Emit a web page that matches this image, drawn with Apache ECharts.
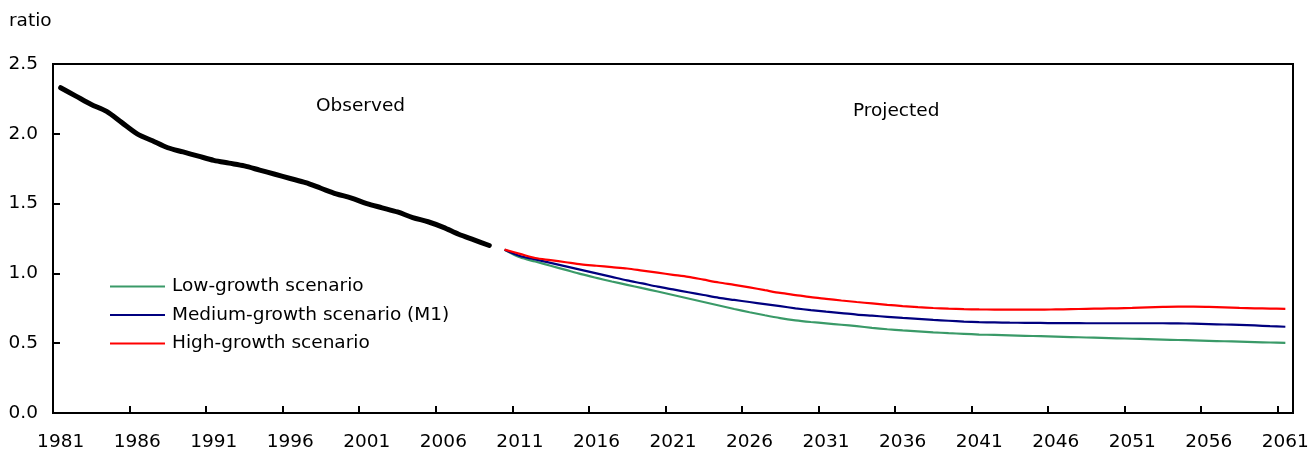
<!DOCTYPE html>
<html>
<head>
<meta charset="utf-8">
<script src="https://cdn.jsdelivr.net/npm/echarts@6/dist/echarts.min.js"></script>
<style>
html,body{margin:0;padding:0;background:#fff;}
#chart{width:1315px;height:454px;}
</style>
</head>
<body>
<div id="chart"></div>
<script>
// Categories: years 1981..2061
const years = [
  '1981','1982','1983','1984','1985','1986','1987','1988','1989','1990',
  '1991','1992','1993','1994','1995','1996','1997','1998','1999','2000',
  '2001','2002','2003','2004','2005','2006','2007','2008','2009','2010',
  '2011','2012','2013','2014','2015','2016','2017','2018','2019','2020',
  '2021','2022','2023','2024','2025','2026','2027','2028','2029','2030',
  '2031','2032','2033','2034','2035','2036','2037','2038','2039','2040',
  '2041','2042','2043','2044','2045','2046','2047','2048','2049','2050',
  '2051','2052','2053','2054','2055','2056','2057','2058','2059','2060',
  '2061'
];

// Observed, 1981..2009
const observed = [
  2.33, 2.27, 2.21, 2.16, 2.08, 2.00, 1.95, 1.90, 1.87, 1.84,
  1.81, 1.79, 1.77, 1.74, 1.71, 1.68, 1.65, 1.61, 1.57, 1.54,
  1.50, 1.47, 1.44, 1.40, 1.37, 1.33, 1.28, 1.24, 1.20
];

// Projections, 2010..2061
const lowGrowth = [
  1.17, 1.115, 1.085, 1.055, 1.025, 0.995, 0.968, 0.942, 0.918, 0.894,
  0.870, 0.845, 0.820, 0.795, 0.770, 0.745, 0.722, 0.700, 0.680, 0.664,
  0.652, 0.642, 0.632, 0.622, 0.610, 0.600, 0.592, 0.585, 0.578, 0.572,
  0.567, 0.562, 0.559, 0.556, 0.553, 0.550, 0.547, 0.544, 0.541, 0.538,
  0.535, 0.532, 0.529, 0.526, 0.523, 0.520, 0.517, 0.514, 0.511, 0.508,
  0.505, 0.502
];
const mediumGrowth = [
  1.17, 1.125, 1.100, 1.075, 1.050, 1.025, 1.000, 0.975, 0.950, 0.928,
  0.905, 0.885, 0.865, 0.845, 0.825, 0.810, 0.795, 0.780, 0.765, 0.750,
  0.737, 0.726, 0.716, 0.705, 0.697, 0.689, 0.681, 0.674, 0.667, 0.661,
  0.655, 0.651, 0.649, 0.647, 0.646, 0.645, 0.644, 0.644, 0.643, 0.643,
  0.643, 0.643, 0.643, 0.643, 0.642, 0.640, 0.637, 0.634, 0.631, 0.627,
  0.622, 0.618
];
const highGrowth = [
  1.17, 1.140, 1.110, 1.095, 1.080, 1.065, 1.055, 1.045, 1.035, 1.020,
  1.005, 0.990, 0.975, 0.955, 0.935, 0.918, 0.900, 0.880, 0.860, 0.845,
  0.830, 0.818, 0.806, 0.795, 0.785, 0.775, 0.766, 0.758, 0.752, 0.747,
  0.744, 0.742, 0.741, 0.740, 0.740, 0.740, 0.742, 0.744, 0.746, 0.748,
  0.750, 0.753, 0.757, 0.760, 0.762, 0.762, 0.760, 0.757, 0.753, 0.750,
  0.748, 0.746
];

const yTicks = [0, 0.5, 1.0, 1.5, 2.0, 2.5];
const seriesNames = ['Low-growth scenario', 'Medium-growth scenario (M1)', 'High-growth scenario'];

const FONT = 'DejaVu Sans';
const FS = 18.5;
const nYears = years.length;
const projStart = years.indexOf('2010');

function fullObserved() {
  const arr = new Array(nYears).fill(null);
  observed.forEach((v, i) => { arr[i] = v; });
  return arr;
}
function fullProjected(vals) {
  const arr = new Array(nYears).fill(null);
  vals.forEach((v, i) => { arr[projStart + i] = v; });
  return arr;
}

const chart = echarts.init(document.getElementById('chart'), null, {renderer: 'canvas'});
chart.setOption({
  animation: false,
  backgroundColor: '#fff',
  textStyle: {fontFamily: FONT, color: '#000'},
  grid: {
    left: 53, right: 22, top: 64, bottom: 41,
    show: true, borderColor: '#000', borderWidth: 2, backgroundColor: 'transparent'
  },
  legend: {
    data: seriesNames,
    orient: 'vertical',
    left: 105, top: 272,
    itemWidth: 55, itemHeight: 2, itemGap: 9.5,
    icon: 'rect',
    textStyle: {fontFamily: FONT, fontSize: FS, color: '#000', padding: [0,0,0,2]}
  },
  graphic: [
    {type: 'text', left: 9, top: 12, style: {text: 'ratio', fontFamily: FONT, fontSize: FS, fill: '#000'}},
    {type: 'text', left: 316, top: 97, style: {text: 'Observed', fontFamily: FONT, fontSize: FS, fill: '#000'}},
    {type: 'text', left: 853, top: 102, style: {text: 'Projected', fontFamily: FONT, fontSize: FS, fill: '#000'}}
  ],
  xAxis: {
    type: 'category',
    data: years,
    boundaryGap: true,
    axisLine: {show: true, lineStyle: {color: '#000', width: 2}},
    axisTick: {show: true, inside: true, length: 7, interval: 4, lineStyle: {color: '#000', width: 2}},
    axisLabel: {interval: 4, margin: 20, fontFamily: FONT, fontSize: FS, color: '#000'},
    splitLine: {show: false}
  },
  yAxis: {
    type: 'value',
    min: yTicks[0], max: yTicks[yTicks.length - 1], interval: 0.5,
    axisLine: {show: true, lineStyle: {color: '#000', width: 2}},
    axisTick: {show: true, inside: true, length: 7, lineStyle: {color: '#000', width: 2}},
    axisLabel: {margin: 15, fontFamily: FONT, fontSize: FS, color: '#000', formatter: v => v.toFixed(1)},
    splitLine: {show: false}
  },
  series: [
    {
      name: 'Observed', type: 'line', data: fullObserved(), showSymbol: false, symbol: 'none', smooth: 0.3,
      lineStyle: {color: '#000', width: 5, cap: 'round'}, itemStyle: {color: '#000'}, z: 5
    },
    {
      name: seriesNames[0], type: 'line', data: fullProjected(lowGrowth), symbol: 'none', smooth: 0.3,
      lineStyle: {color: '#3a9a68', width: 2.2}, itemStyle: {color: '#3a9a68'}
    },
    {
      name: seriesNames[1], type: 'line', data: fullProjected(mediumGrowth), symbol: 'none', smooth: 0.3,
      lineStyle: {color: '#00007f', width: 2.2}, itemStyle: {color: '#00007f'}
    },
    {
      name: seriesNames[2], type: 'line', data: fullProjected(highGrowth), symbol: 'none', smooth: 0.3,
      lineStyle: {color: '#ff0000', width: 2.2}, itemStyle: {color: '#ff0000'}
    }
  ]
});
</script>
</body>
</html>
